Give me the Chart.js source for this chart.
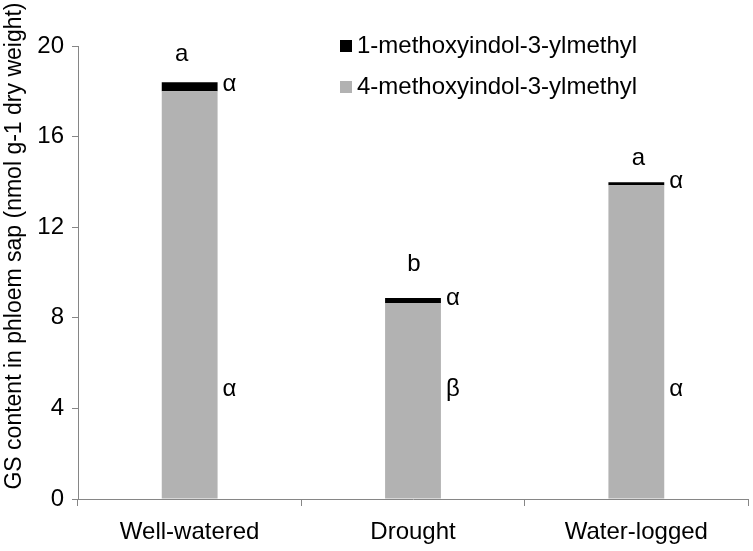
<!DOCTYPE html>
<html><head><meta charset="utf-8">
<script src="https://cdn.jsdelivr.net/npm/chart.js@4"></script>
<style>html,body{margin:0;padding:0;background:#fff;}#wrap{width:753px;height:551px;}</style>
</head><body><div id="wrap"><canvas id="c" width="753" height="551"></canvas></div>
<script>
const categories = ['Well-watered', 'Drought', 'Water-logged'];
const fourMethoxy = [18.0, 8.65, 13.85];
const oneMethoxy = [0.4, 0.22, 0.13];
const groupLetters = ['a', 'b', 'a'];
const oneMethoxyLetters = ['α', 'α', 'α'];
const fourMethoxyLetters = ['α', 'β', 'α'];
const yTicks = [0, 4, 8, 12, 16, 20];
const yTitle = 'GS content in phloem sap (nmol g-1 dry weight)';

const FONT = '"Liberation Sans", Arial, sans-serif';
const GRAY = '#b2b2b2';
const AXIS = '#868686';

const annot = {
  id: 'annot',
  afterDatasetsDraw(chart) {
    const ctx = chart.ctx, x = chart.scales.x, y = chart.scales.y;
    const meta = chart.getDatasetMeta(1);
    ctx.save();
    ctx.fillStyle = '#000';
    ctx.font = '24px ' + FONT;
    const letterOffsets = [28, 34, 24];
    const letterDx = [-8, 1, 2];
    categories.forEach((c, i) => {
      const bar = meta.data[i];
      const cx = x.getPixelForValue(i);
      const top = y.getPixelForValue(fourMethoxy[i] + oneMethoxy[i]);
      const mid1 = y.getPixelForValue(fourMethoxy[i] + oneMethoxy[i] / 2);
      const right = bar.x + bar.width / 2;
      ctx.textAlign = 'center'; ctx.textBaseline = 'middle';
      ctx.fillText(groupLetters[i], cx + letterDx[i], top - letterOffsets[i]);
      ctx.textAlign = 'left';
      ctx.fillText(oneMethoxyLetters[i], right + 5, mid1 - 2);
      ctx.fillText(fourMethoxyLetters[i], right + 5, y.getPixelForValue(4.85));
    });
    // legend
    const items = [['1-methoxyindol-3-ylmethyl', '#000'], ['4-methoxyindol-3-ylmethyl', GRAY]];
    items.forEach((it, k) => {
      const cy = 46 + k * 41;
      ctx.fillStyle = it[1];
      ctx.fillRect(340, cy - 6, 12, 12);
      ctx.fillStyle = '#000';
      ctx.textAlign = 'left'; ctx.textBaseline = 'middle';
      ctx.fillText(it[0], 357, cy);
    });
    // y-axis title
    ctx.font = '23px ' + FONT;
    ctx.translate(15, 246);
    ctx.rotate(-Math.PI / 2);
    ctx.textAlign = 'center'; ctx.textBaseline = 'middle';
    ctx.fillText(yTitle, 0, 0);
    ctx.restore();
  }
};

new Chart(document.getElementById('c'), {
  type: 'bar',
  data: {
    labels: categories,
    datasets: [
      { label: '4-methoxyindol-3-ylmethyl', data: fourMethoxy, backgroundColor: GRAY, barPercentage: 0.25, categoryPercentage: 1 },
      { label: '1-methoxyindol-3-ylmethyl', data: oneMethoxy, backgroundColor: '#000', barPercentage: 0.25, categoryPercentage: 1 }
    ]
  },
  options: {
    responsive: false,
    animation: false,
    layout: { padding: { top: 46, right: 5, left: 0, bottom: 0 } },
    plugins: { legend: { display: false }, tooltip: { enabled: false } },
    scales: {
      x: {
        stacked: true,
        afterFit(s) { s.height = 52; },
        grid: { offset: true, drawOnChartArea: false, color: AXIS, tickLength: 7 },
        border: { color: AXIS, width: 1 },
        ticks: { color: '#000', font: { size: 24, family: FONT }, padding: 12 }
      },
      y: {
        stacked: true,
        min: 0, max: 20,
        afterBuildTicks(s) { s.ticks = yTicks.map(v => ({ value: v })); },
        afterFit(s) { s.width = 78; },
        grid: { drawOnChartArea: false, color: AXIS, tickLength: 6 },
        border: { color: AXIS, width: 1 },
        ticks: { color: '#000', font: { size: 24, family: FONT }, padding: 8 },
        title: { display: false }
      }
    }
  },
  plugins: [annot]
});
</script></body></html>
